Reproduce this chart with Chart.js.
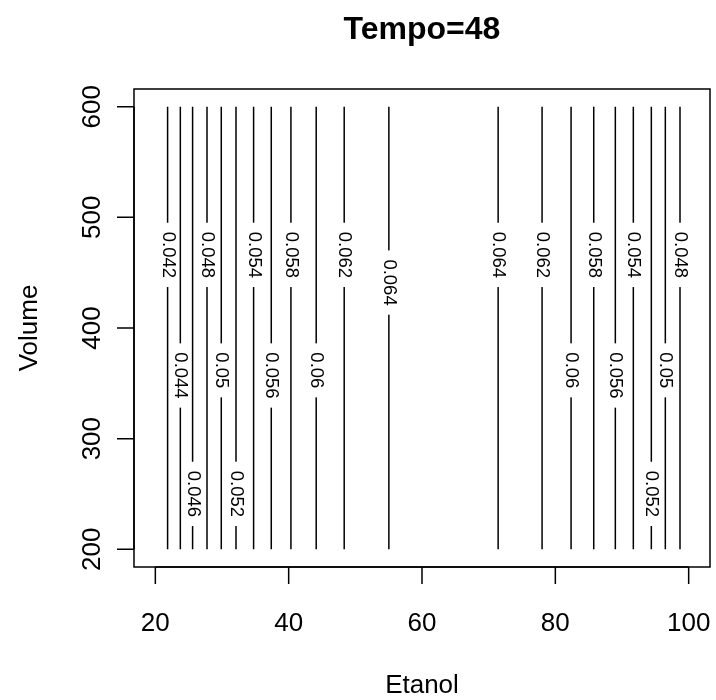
<!DOCTYPE html>
<html lang="it">
<head>
  <meta charset="UTF-8">
  <title>Tempo=48</title>
  <script src="https://cdn.jsdelivr.net/npm/chart.js"></script>
  <style>
    body {
      margin: 0;
      background: white;
    }
    #wrap {
      width: 716px;
      height: 700px;
    }
  </style>
</head>
<body>
  <div id="wrap"><canvas id="contour" width="716" height="700"></canvas></div>

  <script>
    // curve di livello a Tempo=48: ascissa (Etanol) di ogni linea e suo livello
    const etanol = [21.84, 23.75, 25.59, 27.75, 29.89, 32.10, 34.74, 37.39, 40.34, 44.13, 48.33, 55.03,
                    71.42, 78.01, 82.36, 85.76, 89.00, 91.70, 94.40, 96.50, 98.70];
    const livelli = [0.042, 0.044, 0.046, 0.048, 0.05, 0.052, 0.054, 0.056, 0.058, 0.06, 0.062, 0.064,
                     0.064, 0.062, 0.06, 0.058, 0.056, 0.054, 0.052, 0.05, 0.048];
    // Volume dove inizia l'etichetta di ogni linea
    const posEtichetta = [487, 378, 271, 487, 378, 271, 487, 378, 487, 378, 487, 462,
                          487, 487, 378, 487, 378, 487, 271, 378, 487];
    const volume = [200, 600];
    const xTicks = [20, 40, 60, 80, 100];
    const yTicks = [200, 300, 400, 500, 600];

    const FONT = '"Liberation Sans", Arial, sans-serif';

    const datasets = etanol.map((x, i) => ({
      label: String(livelli[i]),
      data: volume.map(v => ({ x: x, y: v })),
      showLine: true,
      borderColor: '#000',
      borderWidth: 1.5,
      pointRadius: 0,
      fill: false
    }));

    // assi, riquadro, titoli ed etichette delle curve in stile R
    const rAxes = {
      id: 'rAxes',
      afterDatasetsDraw(chart) {
        const { ctx, chartArea: a, scales: { x, y } } = chart;
        ctx.save();

        // etichette delle curve: prima si apre un varco nella linea, poi il testo ruotato
        ctx.font = '18.5px ' + FONT;
        etanol.forEach((xv, i) => {
          const txt = String(livelli[i]);
          const px = x.getPixelForValue(xv);
          const top = y.getPixelForValue(posEtichetta[i]);
          const len = ctx.measureText(txt).width;
          ctx.fillStyle = 'white';
          ctx.fillRect(px - 2.5, top - 9, 5, len + 18);
          ctx.save();
          ctx.translate(px, top);
          ctx.rotate(Math.PI / 2);
          ctx.fillStyle = '#000';
          ctx.textAlign = 'left';
          ctx.textBaseline = 'middle';
          ctx.fillText(txt, 0, 0);
          ctx.restore();
        });

        ctx.strokeStyle = '#000';
        ctx.lineWidth = 1.5;
        ctx.strokeRect(a.left, a.top, a.right - a.left, a.bottom - a.top);

        // asse x
        const tick = 17;
        ctx.beginPath();
        ctx.moveTo(x.getPixelForValue(xTicks[0]), a.bottom);
        ctx.lineTo(x.getPixelForValue(xTicks[xTicks.length - 1]), a.bottom);
        xTicks.forEach(t => {
          const p = x.getPixelForValue(t);
          ctx.moveTo(p, a.bottom);
          ctx.lineTo(p, a.bottom + tick);
        });
        // asse y
        ctx.moveTo(a.left, y.getPixelForValue(yTicks[0]));
        ctx.lineTo(a.left, y.getPixelForValue(yTicks[yTicks.length - 1]));
        yTicks.forEach(t => {
          const p = y.getPixelForValue(t);
          ctx.moveTo(a.left, p);
          ctx.lineTo(a.left - tick, p);
        });
        ctx.stroke();

        ctx.fillStyle = '#000';
        ctx.font = '26px ' + FONT;
        ctx.textAlign = 'center';
        ctx.textBaseline = 'alphabetic';
        xTicks.forEach(t => ctx.fillText(String(t), x.getPixelForValue(t), a.bottom + 64));
        yTicks.forEach(t => {
          ctx.save();
          ctx.translate(a.left - 34, y.getPixelForValue(t));
          ctx.rotate(-Math.PI / 2);
          ctx.fillText(String(t), 0, 0);
          ctx.restore();
        });

        const cx = (a.left + a.right) / 2;
        const cy = (a.top + a.bottom) / 2;
        ctx.fillText('Etanol', cx, a.bottom + 126);
        ctx.save();
        ctx.translate(37, cy);
        ctx.rotate(-Math.PI / 2);
        ctx.fillText('Volume', 0, 0);
        ctx.restore();

        ctx.font = 'bold 32px ' + FONT;
        ctx.fillText('Tempo=48', cx, 39);
        ctx.restore();
      }
    };

    new Chart(document.getElementById('contour'), {
      type: 'scatter',
      data: { datasets },
      options: {
        responsive: false,
        animation: false,
        devicePixelRatio: 1,
        layout: { padding: { left: 134, right: 6, top: 89, bottom: 133 } },
        plugins: { legend: { display: false }, tooltip: { enabled: false } },
        scales: {
          x: { type: 'linear', min: 16.8, max: 103.2, display: false },
          y: { type: 'linear', min: 184, max: 616, display: false }
        }
      },
      plugins: [rAxes]
    });
  </script>
</body>
</html>
